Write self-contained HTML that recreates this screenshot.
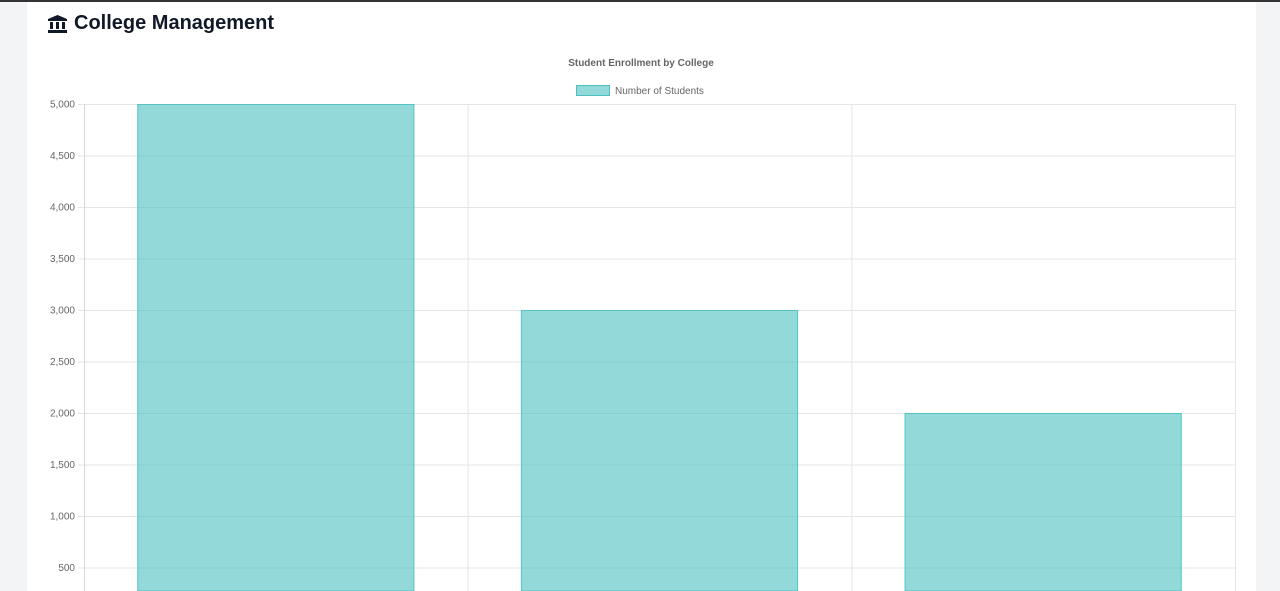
<!DOCTYPE html>
<html><head><meta charset="utf-8">
<style>
html,body{margin:0;padding:0;width:1280px;height:591px;overflow:hidden;background:#f3f4f6;font-family:"Liberation Sans",sans-serif;}
#topbar{position:absolute;left:0;top:0;width:1280px;height:2px;background:#333;}
#card{position:absolute;left:27px;top:2px;width:1229px;height:589px;background:#fff;}
#title{position:absolute;left:48px;top:12px;font-size:20px;font-weight:bold;color:#111827;display:flex;align-items:center;gap:7px;}
svg{position:absolute;left:0;top:0;overflow:hidden;}
</style></head>
<body>
<div id="topbar"></div>
<div id="card"></div>
<div id="title">
<svg style="position:static" width="19" height="18" viewBox="0 0 19 18"><polygon points="9.5,0 19,4 19,6 0,6 0,4" fill="#111827"/><rect x="2" y="7" width="3" height="7" fill="#111827"/><rect x="8" y="7" width="3" height="7" fill="#111827"/><rect x="14" y="7" width="3" height="7" fill="#111827"/><rect x="0" y="15" width="19" height="3" fill="#111827"/></svg>
<span>College Management</span></div>
<svg id="chart" width="1280" height="591"></svg>
<script>
const categories=["College A","College B","College C"];
const values=[5000,3000,2000];
const yTicks=[500,1000,1500,2000,2500,3000,3500,4000,4500,5000];
const NS="http://www.w3.org/2000/svg";
const svg=document.getElementById('chart');
const L=84,R=1235,T=104,yMax=5000,pxPer=51.5/500,B=591;
const y=v=>T+(yMax-v)*pxPer;
const bw=(R-L)/categories.length;
const x=i=>L+i*bw;
function mk(tag,attrs){const e=document.createElementNS(NS,tag);for(const k in attrs)e.setAttribute(k,attrs[k]);svg.appendChild(e);return e;}
let t=mk('text',{x:641,y:66,'text-anchor':'middle','font-size':10,'font-weight':'bold',fill:'#666'});t.textContent='Student Enrollment by College';


let lb=mk('rect',{x:576.5,y:85.5,width:33,height:10,fill:'rgba(75,192,192,0.6)',stroke:'rgba(75,192,192,1)'});


let lt=mk('text',{x:615,y:94,'font-size':10,fill:'#666'});lt.textContent='Number of Students';


yTicks.forEach(v=>{
 const g=mk('line',{x1:78,x2:R,y1:y(v)+0.5,y2:y(v)+0.5,stroke:'#e5e5e5'});
 
 
 const l=mk('text',{x:75,y:y(v)+3.5,'text-anchor':'end','font-size':10,fill:'#666'});
 l.textContent=v.toLocaleString('en-US');
 
 
});
for(let i=0;i<=categories.length;i++){
 const g=mk('line',{x1:x(i)+0.5,x2:x(i)+0.5,y1:T,y2:B,stroke:i==0?'#d8d8d8':'#e5e5e5'});
 
 
}
values.forEach((v,i)=>{
 const w=bw*0.72,cx=x(i)+bw/2;
 const top=y(v)+0.5;
 const bottom=Math.min(y(0),B);
 const b=mk('rect',{x:cx-w/2,y:top,width:w,height:Math.max(0,bottom-top),fill:'rgba(75,192,192,0.6)',stroke:'rgba(75,192,192,0.9)','stroke-width':1});
 
 
});
</script>
</body></html>
